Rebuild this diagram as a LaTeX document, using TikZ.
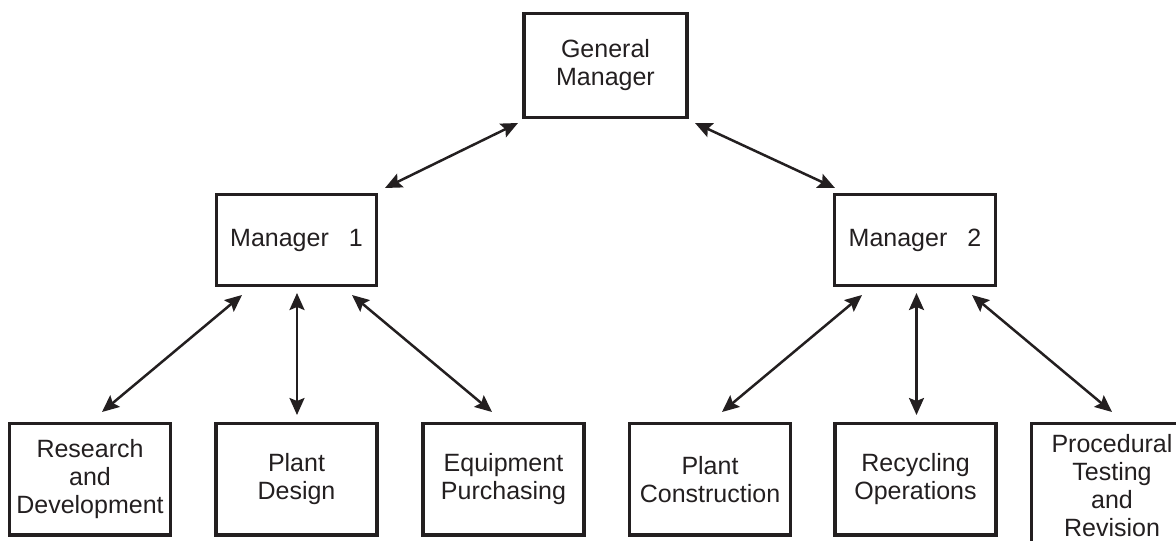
\documentclass[tikz,border=0pt]{standalone}
\usepackage{fontspec}
\setmainfont{Liberation Sans}
\usetikzlibrary{arrows.meta}

\definecolor{ink}{HTML}{231F20}

\begin{document}
\begin{tikzpicture}[x=1pt, y=-1pt,
  box/.style={draw=ink, line width=3.3pt, rectangle, outer sep=0pt, inner sep=0pt,
    align=center, text=ink, minimum width=161pt, minimum height=111.5pt,
    font=\fontsize{25}{28}\selectfont},
  >={Stealth[length=17pt, width=15pt, inset=3pt]},
  link/.style={draw=ink, line width=2.5pt, <->}
]
\clip (0,0) rectangle (1176,541);

% top level
\node[box, minimum width=163pt, minimum height=104pt] (gm) at (605.5,65.5) {General\\Manager};

% middle level
\node[box, minimum width=160pt, minimum height=91pt] (m1) at (296.5,240) {Manager\hspace{0.8em}1};
\node[box, minimum width=161pt, minimum height=91pt] (m2) at (915,240) {Manager\hspace{0.8em}2};

% departments
\node[box] (rd) at (90,479.25)    {Research\\and\\Development};
\node[box] (pd) at (296.5,479.25) {Plant\\Design};
\node[box] (ep) at (503.5,479.25) {Equipment\\Purchasing};
\node[box] (pc) at (710,479.25)   {Plant\\Construction};
\node[box] (ro) at (915.5,479.25) {Recycling\\Operations};
\node[box, minimum height=125pt] (pt) at (1112,486) {Procedural\\Testing\\and\\Revision};

% reporting lines
\draw[link] ([shift={(-6,5.5)}]gm.south west) -- ([shift={(8.5,-6.5)}]m1.north east);
\draw[link] ([shift={(8,5.5)}]gm.south east) -- ([shift={(0.5,-6.5)}]m2.north west);

\draw[link] ([shift={(25.5,9.5)}]m1.south west) -- ([shift={(12,-11.5)}]rd.north);
\draw[link] ([shift={(0.5,7.5)}]m1.south) -- ([shift={(0.5,-8.5)}]pd.north);
\draw[link] ([shift={(-24.5,9.5)}]m1.south east) -- ([shift={(-11.5,-11.5)}]ep.north);

\draw[link] ([shift={(27.5,9.5)}]m2.south west) -- ([shift={(12,-11.5)}]pc.north);
\draw[link] ([shift={(1.5,7.5)}]m2.south) -- ([shift={(1,-8.5)}]ro.north);
\draw[link] ([shift={(-23.5,9.5)}]m2.south east) -- ([shift={(0,-11.5)}]pt.north);
\end{tikzpicture}
\end{document}
